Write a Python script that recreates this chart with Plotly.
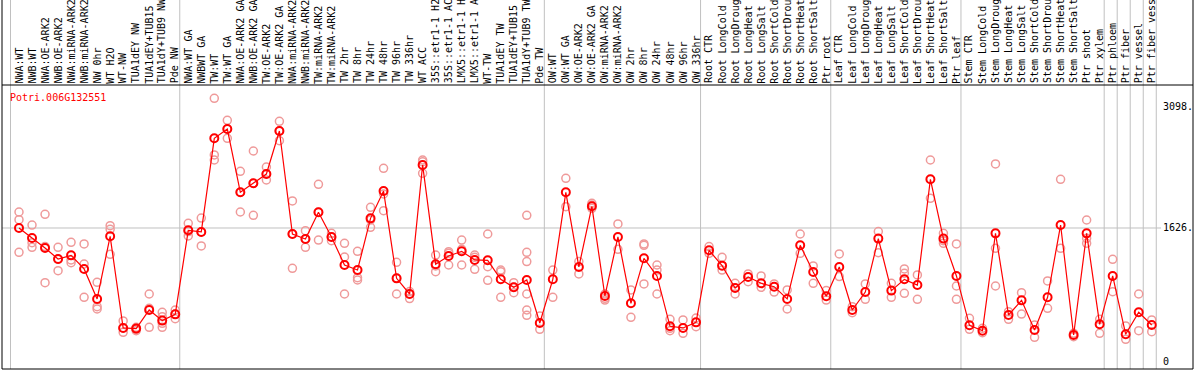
import plotly.graph_objects as go

labels = [
    "NWA:WT", "NWB:WT", "NWA:OE-ARK2", "NWB:OE-ARK2", "NWA:miRNA-ARK2", "NWB:miRNA-ARK2",
    "NW 0hr", "WT H2O", "WT-NW", "TUA1dEY NW", "TUA1dEY+TUB15", "TUA1dY+TUB9 NW", "Pde NW",
    "NWA:WT GA", "NWBWT GA", "TW:WT", "TW:WT GA", "NWA:OE-ARK2 GA", "NWB:OE-ARK2 GA",
    "TW:OE-ARK2", "TW:OE-ARK2 GA", "NWA:miRNA-ARK2", "NWB:miRNA-ARK2", "TW:miRNA-ARK2",
    "TW:miRNA-ARK2", "TW 2hr", "TW 8hr", "TW 24hr", "TW 48hr", "TW 96hr", "TW 336hr", "WT ACC",
    "35S::etr1-1 H2O", "35S::etr1-1 ACC", "LMX5::etr1-1 H2O", "LMX5::etr1-1 ACC", "WT-TW",
    "TUA1dEY TW", "TUA1dEY+TUB15", "TUA1dY+TUB9 TW", "Pde TW",
    "OW:WT", "OW:WT GA", "OW:OE-ARK2", "OW:OE-ARK2 GA", "OW:miRNA-ARK2", "OW:miRNA-ARK2",
    "OW 2hr", "OW 8hr", "OW 24hr", "OW 48hr", "OW 96hr", "OW 336hr",
    "Root CTR", "Root LongCold", "Root LongDrought", "Root LongHeat", "Root LongSalt",
    "Root ShortCold", "Root ShortDrought", "Root ShortHeat", "Root ShortSalt", "Ptr root",
    "Leaf CTR", "Leaf LongCold", "Leaf LongDrought", "Leaf LongHeat", "Leaf LongSalt",
    "Leaf ShortCold", "Leaf ShortDrought", "Leaf ShortHeat", "Leaf ShortSalt", "Ptr leaf",
    "Stem CTR", "Stem LongCold", "Stem LongDrought", "Stem LongHeat", "Stem LongSalt",
    "Stem ShortCold", "Stem ShortDrought", "Stem ShortHeat", "Stem ShortSalt", "Ptr shoot",
    "Ptr xylem", "Ptr phloem", "Ptr fiber", "Ptr vessel", "Ptr fiber vessel",
]
MAX_CHARS = 14  # the label strip only shows this many characters

means = [
    1626, 1505, 1383, 1250, 1294, 1129, 765, 1525, 413, 405, 631, 502, 578,
    1598, 1578, 2714, 2827, 2059, 2168, 2281, 2803, 1553, 1493, 1816, 1517, 1177, 1116,
    1743, 2075, 1015, 825, 2391, 1185, 1286, 1343, 1238, 1234, 1003, 906, 995, 473,
    1003, 2059, 1153, 1889, 801, 1517, 712, 1258, 1044, 433, 413, 481,
    1355, 1169, 898, 1031, 955, 914, 765, 1416, 1092, 797,
    1153, 631, 849, 1497, 866, 1003, 934, 2217, 1497, 1044,
    445, 380, 1561, 570, 748, 388, 785, 1662, 328, 1561, 457,
    1044, 336, 603, 449,
]

replicates = [
    [1820, 1727, 1331], [1662, 1448, 1391], [1792, 1400, 963], [1391, 1246, 1108],
    [1452, 1238, 1205], [1432, 1189, 785], [967, 671, 643], [1654, 1610, 1307],
    [498, 413, 360], [421, 396, 380], [825, 651, 421], [603, 550, 469, 421],
    [631, 583, 526],
    [1683, 1582, 1529], [1747, 1578, 1408], [3200, 2512, 2451], [2933, 2827, 2714],
    [2314, 2059, 1820], [2560, 2168, 1780], [2366, 2281, 2209], [2920, 2803, 2686],
    [1954, 1553, 1137], [1594, 1493, 1391], [2156, 1816, 1480], [1561, 1517, 1472],
    [1440, 1274, 825], [1343, 1023, 995], [1877, 1723, 1634], [2350, 2039, 1836],
    [1209, 1015, 825], [854, 825, 769], [2451, 2431, 2289], [1298, 1165, 1096],
    [1339, 1319, 1177], [1480, 1367, 1177], [1298, 1270, 1124], [1553, 1157, 991],
    [1116, 1096, 785], [963, 906, 841], [1780, 1331, 1218, 825, 631, 566], [558, 396],
    [1116, 785], [2229, 1885], [1218, 1068], [1925, 1905, 1865], [825, 773, 752],
    [1675, 1367], [874, 542], [1432, 1416, 947], [1177, 1116, 825], [518, 409, 380],
    [510, 348], [534, 429],
    [1400, 1319], [1270, 1116], [955, 825], [1068, 975], [1044, 906], [947, 849],
    [874, 643], [1553, 1319], [1165, 955], [866, 752],
    [1311, 1036], [671, 599], [947, 761], [1582, 1327], [955, 785], [1129, 1076, 833],
    [1056, 761], [2451, 1986], [1561, 1472, 1440], [1432, 922, 761],
    [530, 396], [409, 356], [2403, 1379, 922], [611, 518], [841, 582], [449, 299],
    [983, 651], [2217, 1379], [348, 307], [1723, 1501, 1440], [518, 348],
    [1246, 853], [437, 275], [825, 380], [510, 368],
]

group_bounds = [0, 13, 41, 53, 63, 73, 84, 85, 86, 87, 88]
tick_values = [3098, 1626, 0]
tick_texts = ["3098.", "1626.", "0"]
gene = "Potri.006G132551"

W, H = 1194, 370
PL, PR, PT, PB = 2, 1193, 85, 369  # plot area pixels
STEP = 13.02
X0 = 19
xmin = (PL - X0) / STEP
xmax = (PR - X0) / STEP
ymin, ymax = -85, 3361

def px_to_paper_x(px):
    return (px - PL) / (PR - PL)

def px_to_paper_y(py):
    return (PB - py) / (PB - PT)

def data_to_paper_x(x):
    return (x - xmin) / (xmax - xmin)

x_idx = list(range(len(labels)))
rx, ry = [], []
for i, vals in enumerate(replicates):
    for v in vals:
        rx.append(i)
        ry.append(v)

fig = go.Figure()
fig.add_trace(go.Scatter(
    x=rx, y=ry, mode="markers",
    marker=dict(symbol="circle-open", size=8, color="#ef9a9a", line=dict(width=1.5, color="#ef9a9a")),
    hoverinfo="skip", showlegend=False,
))
fig.add_trace(go.Scatter(
    x=x_idx, y=means, mode="lines+markers",
    line=dict(color="#ff0000", width=1.2),
    marker=dict(symbol="circle-open", size=8, color="#ff0000", line=dict(width=2, color="#ff0000")),
    showlegend=False,
))

shapes = []
top_page = px_to_paper_y(0)
for b in group_bounds:
    xp = data_to_paper_x(b - 0.653)
    shapes.append(dict(type="line", xref="paper", yref="paper", x0=xp, x1=xp, y0=0, y1=top_page,
                       line=dict(color="#c0c0c0", width=1), layer="below"))
# horizontal grid at 1626
shapes.append(dict(type="line", xref="paper", yref="y", x0=0, x1=px_to_paper_x(1161), y0=1626, y1=1626,
                   line=dict(color="#c0c0c0", width=1), layer="below"))
# black borders
shapes.append(dict(type="line", xref="paper", yref="paper", x0=0, x1=0, y0=0, y1=top_page,
                   line=dict(color="black", width=1)))
shapes.append(dict(type="line", xref="paper", yref="paper", x0=1, x1=1, y0=0, y1=top_page,
                   line=dict(color="black", width=1)))
shapes.append(dict(type="line", xref="paper", yref="paper", x0=0, x1=1, y0=1, y1=1,
                   line=dict(color="black", width=1)))
shapes.append(dict(type="line", xref="paper", yref="paper", x0=0, x1=1, y0=0, y1=0,
                   line=dict(color="black", width=1)))

FONT = "DejaVu Sans Mono"
annotations = []
for i, lab in enumerate(labels):
    annotations.append(dict(
        x=i, xref="x", y=px_to_paper_y(84.5), yref="paper", text=lab[:MAX_CHARS], textangle=-90,
        showarrow=False, xanchor="center", yanchor="bottom", borderpad=0,
        font=dict(family=FONT, size=10, color="black"),
    ))
for v, t in zip(tick_values, tick_texts):
    annotations.append(dict(
        x=px_to_paper_x(1162), xref="paper", y=v, yref="y", text=t, showarrow=False,
        xanchor="left", yanchor="middle", borderpad=0,
        font=dict(family=FONT, size=10, color="black"),
    ))
annotations.append(dict(
    x=px_to_paper_x(9), xref="paper", y=px_to_paper_y(97), yref="paper", text=gene,
    showarrow=False, xanchor="left", yanchor="middle", borderpad=0,
    font=dict(family=FONT, size=10, color="#ff0000"),
))

fig.update_layout(
    width=W, height=H,
    margin=dict(l=PL, r=W - PR, t=PT, b=H - PB, pad=0),
    paper_bgcolor="white", plot_bgcolor="white",
    xaxis=dict(range=[xmin, xmax], visible=False, fixedrange=True),
    yaxis=dict(range=[ymin, ymax], visible=False, fixedrange=True),
    shapes=shapes, annotations=annotations,
    showlegend=False,
)
fig.write_html(
    "out.html",
    config={"displayModeBar": False},
    post_script="document.body.style.margin='0';document.body.style.overflow='hidden';",
)
